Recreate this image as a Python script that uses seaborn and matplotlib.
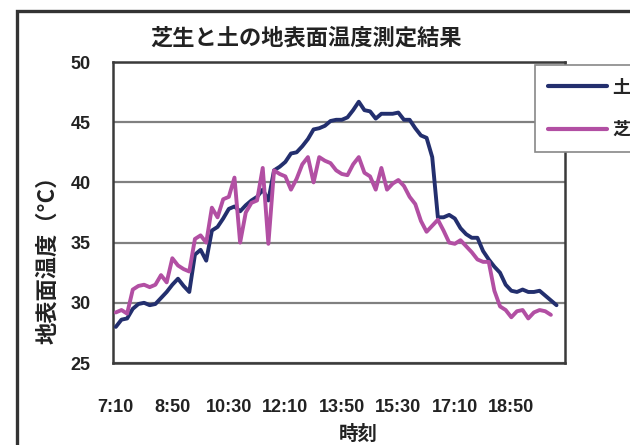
import numpy as np
import pandas as pd
import matplotlib
matplotlib.use("Agg")
import matplotlib.pyplot as plt
import seaborn as sns
from matplotlib.patches import Rectangle
from matplotlib.lines import Line2D

# ---- data (10-minute steps from 7:10) ----
tick_labels = ["7:10", "8:50", "10:30", "12:10", "13:50", "15:30", "17:10", "18:50"]
series_names = ["土", "芝生"]

soil = [28.0, 28.6, 28.7, 29.5, 29.9, 30.0, 29.8, 29.9, 30.4, 30.9,
        31.5, 32.0, 31.4, 30.9, 34.0, 34.4, 33.5, 36.0, 36.3, 37.0,
        37.8, 38.0, 37.6, 38.1, 38.5, 38.8, 39.4, 38.5, 41.0, 41.3,
        41.7, 42.4, 42.5, 43.0, 43.6, 44.4, 44.5, 44.7, 45.1, 45.2,
        45.2, 45.4, 46.0, 46.7, 46.0, 45.9, 45.3, 45.7, 45.7, 45.7,
        45.8, 45.2, 45.2, 44.5, 43.9, 43.7, 42.1, 37.1, 37.1, 37.3,
        37.0, 36.2, 35.7, 35.4, 35.4, 34.3, 33.6, 33.0, 32.5, 31.5,
        31.0, 30.9, 31.1, 30.9, 30.9, 31.0, 30.6, 30.2, 29.8]

grass = [29.2, 29.4, 29.1, 31.1, 31.4, 31.5, 31.3, 31.5, 32.3, 31.7,
         33.7, 33.1, 32.8, 32.6, 35.3, 35.6, 35.0, 37.9, 37.1, 38.6,
         38.8, 40.4, 35.0, 37.5, 38.3, 38.5, 41.2, 34.9, 41.0, 40.7,
         40.5, 39.4, 40.3, 41.5, 42.1, 40.0, 42.1, 41.8, 41.6, 41.0,
         40.7, 40.6, 41.5, 42.1, 40.8, 40.5, 39.4, 41.2, 39.4, 39.9,
         40.2, 39.7, 38.8, 38.2, 36.8, 35.9, 36.4, 36.9, 36.0, 35.0,
         34.9, 35.2, 34.7, 34.2, 33.6, 33.4, 33.4, 31.0, 29.7, 29.4,
         28.8, 29.3, 29.4, 28.7, 29.2, 29.4, 29.3, 29.0, np.nan]

colors = {"土": "#232f6e", "芝生": "#b24fa3"}

# ---- figure ----
sns.set_theme(style="white")
plt.rcParams["font.family"] = ["Liberation Sans", "Noto Sans CJK JP", "DejaVu Sans"]

fig = plt.figure(figsize=(6.3, 4.45), dpi=100)
fig.patch.set_facecolor("white")

# outer chart frame (cropped at right/bottom)
fig.add_artist(Rectangle((17 / 630, -0.1), 1.2, 1 - 11 / 445 + 0.1,
                         transform=fig.transFigure, fill=False,
                         edgecolor="#333333", linewidth=2.4))

ax = fig.add_axes([113 / 630, 1 - 363 / 445, 452 / 630, 301 / 445])

n = len(soil)
idx = np.arange(n)
df = pd.DataFrame({
    "idx": np.concatenate([idx, idx]),
    "temp": np.concatenate([soil, grass]),
    "series": [series_names[0]] * n + [series_names[1]] * n,
})

sns.lineplot(data=df, x="idx", y="temp", hue="series", palette=colors,
             linewidth=2.8, ax=ax, legend=False, zorder=3)

ax.set_xlim(-0.5, 79.5)
ax.set_ylim(25, 50)
ax.set_yticks([25, 30, 35, 40, 45, 50])
ax.set_xticks(np.arange(0, 71, 10))
ax.set_xticklabels(tick_labels)
ax.set_xlabel("")
ax.set_ylabel("")

ax.yaxis.grid(True, color="#808080", linewidth=1.6)
ax.xaxis.grid(False)
ax.set_axisbelow(True)
for s in ax.spines.values():
    s.set_color("#3a3a3a")
    s.set_linewidth(1.8)

ax.tick_params(axis="y", length=0, pad=16, labelsize=13, labelcolor="#222222")
ax.tick_params(axis="x", length=0, pad=26, labelsize=13, labelcolor="#222222")
for lab in ax.get_xticklabels() + ax.get_yticklabels():
    lab.set_fontweight("bold")

# title and axis titles
fig.text(306 / 630, 1 - 38 / 445, "芝生と土の地表面温度測定結果",
         ha="center", va="center", fontsize=16, fontweight="bold",
         family=["Noto Sans CJK JP"], color="#222222")
fig.text(48 / 630, 1 - 254 / 445, "地表面温度（°C）", rotation=90,
         ha="center", va="center", fontsize=16, fontweight="bold",
         family=["Noto Sans CJK JP"], color="#222222")
fig.text(358 / 630, 1 - 434 / 445, "時刻", ha="center", va="center",
         fontsize=14, fontweight="bold", family=["Noto Sans CJK JP"],
         color="#222222")

# legend (cropped at the right edge like the reference)
handles = [Line2D([0], [0], color=colors[s], linewidth=3) for s in series_names]
leg = fig.legend(handles, series_names, loc="upper left",
                 bbox_to_anchor=(535 / 630, 1 - 65 / 445),
                 bbox_transform=fig.transFigure, frameon=True, fancybox=False,
                 edgecolor="#888888", framealpha=1, facecolor="white",
                 handlelength=3.3, handletextpad=0.3, labelspacing=1.3,
                 borderpad=0.7, borderaxespad=0,
                 prop={"family": ["Noto Sans CJK JP"], "weight": "bold", "size": 13})
leg.get_frame().set_linewidth(1.2)

fig.savefig("out.png", dpi=100, facecolor="white")
